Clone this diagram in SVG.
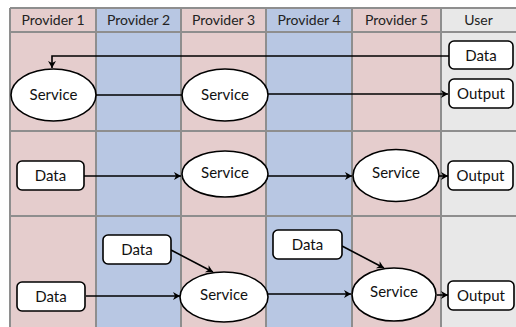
<svg xmlns="http://www.w3.org/2000/svg" width="516" height="327" viewBox="0 0 516 327">
<style>
.pink{fill:#e5cdcd}
.blue{fill:#b8c7e3}
.gray{fill:#e8e8e8}
.grid{stroke:#8e8e8e;stroke-width:2;fill:none}
.hdr{font-family:Lato,"Open Sans",sans-serif;font-size:14px;fill:#222;text-anchor:middle}
.lbl{font-family:Lato,"Open Sans",sans-serif;font-size:15px;fill:#111;text-anchor:middle}
.box{fill:#fff;stroke:#000;stroke-width:1.6}
.conn{stroke:#000;stroke-width:1.6;fill:none}
</style>
<defs>
<marker id="ah" markerWidth="10" markerHeight="10" refX="8" refY="5" orient="auto" markerUnits="userSpaceOnUse">
<path d="M1,1 L8,5 L1,9 L3,5 Z" fill="#000"/>
</marker>
</defs>
<rect width="516" height="327" fill="#fff"/>
<g id="lanes">
<rect class="pink" x="10" y="8" width="86" height="319"/>
<rect class="blue" x="96" y="8" width="85" height="319"/>
<rect class="pink" x="181" y="8" width="85" height="319"/>
<rect class="blue" x="266" y="8" width="86" height="319"/>
<rect class="pink" x="352" y="8" width="89" height="319"/>
<rect class="gray" x="441" y="8" width="75" height="319"/>
<path class="grid" d="M10,8 H516 M10,32 H516 M10,131 H516 M10,216 H516 M10,8 V327 M96,8 V327 M181,8 V327 M266,8 V327 M352,8 V327 M441,8 V327"/>
<text class="hdr" x="53" y="25">Provider 1</text>
<text class="hdr" x="138.5" y="25">Provider 2</text>
<text class="hdr" x="223.5" y="25">Provider 3</text>
<text class="hdr" x="309" y="25">Provider 4</text>
<text class="hdr" x="396.5" y="25">Provider 5</text>
<text class="hdr" x="478.5" y="25">User</text>
</g>
<g id="connectors">
<path class="conn" d="M449,56 H52 V68" marker-end="url(#ah)"/>
<path class="conn" d="M96,95 H182"/>
<path class="conn" d="M268,94 H448" stroke-width="2.4" marker-end="url(#ah)"/>
<path class="conn" d="M84,176 H181" marker-end="url(#ah)"/>
<path class="conn" d="M268,176 H352" marker-end="url(#ah)"/>
<path class="conn" d="M439,176 H448" marker-end="url(#ah)"/>
<path class="conn" d="M86,296 H180" marker-end="url(#ah)"/>
<path class="conn" d="M171,250 L213,272" marker-end="url(#ah)"/>
<path class="conn" d="M268,294 H351" marker-end="url(#ah)"/>
<path class="conn" d="M342,246 L384,268" marker-end="url(#ah)"/>
<path class="conn" d="M437,295 H448" marker-end="url(#ah)"/>
</g>
<g id="r1-data-user"><rect class="box" x="449" y="41" width="64" height="28" rx="5"/><text class="lbl" x="481" y="61">Data</text></g>
<g id="r1-output"><rect class="box" x="449" y="79" width="64" height="29" rx="5"/><text class="lbl" x="481" y="99">Output</text></g>
<g id="r1-service-p1"><ellipse class="box" cx="53.5" cy="95" rx="42.5" ry="26"/><text class="lbl" x="53.5" y="100">Service</text></g>
<g id="r1-service-p3"><ellipse class="box" cx="225" cy="95" rx="43" ry="26"/><text class="lbl" x="225" y="100">Service</text></g>
<g id="r2-data-p1"><rect class="box" x="17" y="161" width="67" height="29" rx="5"/><text class="lbl" x="50.5" y="181">Data</text></g>
<g id="r2-service-p3"><ellipse class="box" cx="225" cy="174" rx="43" ry="23"/><text class="lbl" x="225" y="178">Service</text></g>
<g id="r2-service-p5"><ellipse class="box" cx="396" cy="175.5" rx="43" ry="26"/><text class="lbl" x="396" y="178">Service</text></g>
<g id="r2-output"><rect class="box" x="448" y="161" width="65" height="29" rx="5"/><text class="lbl" x="480.5" y="181">Output</text></g>
<g id="r3-data-p1"><rect class="box" x="17" y="282" width="68" height="29" rx="5"/><text class="lbl" x="51" y="302">Data</text></g>
<g id="r3-data-p2"><rect class="box" x="103" y="235" width="68" height="29" rx="5"/><text class="lbl" x="137" y="255">Data</text></g>
<g id="r3-service-p3"><ellipse class="box" cx="224" cy="297" rx="44" ry="25"/><text class="lbl" x="224" y="300">Service</text></g>
<g id="r3-data-p4"><rect class="box" x="273" y="230" width="69" height="29" rx="5"/><text class="lbl" x="307.5" y="250">Data</text></g>
<g id="r3-service-p5"><ellipse class="box" cx="394" cy="294.5" rx="42" ry="26.5"/><text class="lbl" x="394" y="297">Service</text></g>
<g id="r3-output"><rect class="box" x="448" y="281" width="66" height="29" rx="5"/><text class="lbl" x="481" y="301">Output</text></g>
</svg>
